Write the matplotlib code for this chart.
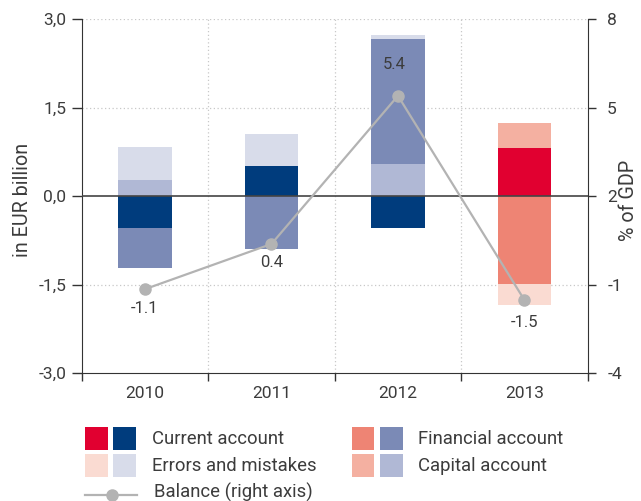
import matplotlib
matplotlib.use("Agg")
import matplotlib.pyplot as plt
from matplotlib.patches import Rectangle
from matplotlib.lines import Line2D
import numpy as np

plt.rcParams['font.family'] = ['Roboto', 'DejaVu Sans']

years = ["2010", "2011", "2012", "2013"]
current = [-0.54, 0.51, -0.54, 0.82]
capital = [0.27, 0.0, 0.545, 0.42]
financial = [-0.67, -0.89, 2.12, -1.49]
errors = [0.56, 0.54, 0.07, -0.36]
balance = [-1.15, 0.38, 5.4, -1.52]
balance_labels = ["-1.1", "0.4", "5.4", "-1.5"]
left_ticks = [-3.0, -1.5, 0.0, 1.5, 3.0]
left_ticklabels = ["-3,0", "-1,5", "0,0", "1,5", "3,0"]
right_ticks = [-4, -1, 2, 5, 8]
legend_labels = ["Current account", "Errors and mistakes", "Financial account",
                 "Capital account", "Balance (right axis)"]

blue = {"current": "#003c7d", "financial": "#7b8ab6", "capital": "#b0b8d5", "errors": "#d8dcea"}
red = {"current": "#e10030", "financial": "#ee8474", "capital": "#f4b0a1", "errors": "#fadbd2"}
TXT = "#3c3c3c"
SP = "#333333"

fig = plt.figure(figsize=(6.41, 5.01), dpi=100)
ax = fig.add_axes([81.7/641, 1-373.3/501, (587.7-81.7)/641, (373.3-19)/501])
ax2 = ax.twinx()

x = np.arange(len(years))
w = 0.42
series = [("current", current), ("capital", capital), ("financial", financial), ("errors", errors)]
pos = np.zeros(len(years))
neg = np.zeros(len(years))
for name, vals in series:
    vals = np.array(vals)
    for i in range(len(years)):
        v = vals[i]
        pal = red if i == 3 else blue
        if v >= 0:
            ax.bar(x[i], v, w, bottom=pos[i], color=pal[name], linewidth=0, zorder=2)
            pos[i] += v
        else:
            ax.bar(x[i], v, w, bottom=neg[i], color=pal[name], linewidth=0, zorder=2)
            neg[i] += v

ax.set_xlim(-0.5, 3.5)
ax.set_ylim(-3, 3)
ax2.set_ylim(-4, 8)

# grid
for yv in [-1.5, 1.5, 3.0]:
    ax.axhline(yv, color="#c8c8c8", lw=0.9, ls=(0, (1, 2)), zorder=1)
for xv in [0.5, 1.5, 2.5]:
    ax.axvline(xv, color="#c8c8c8", lw=0.9, ls=(0, (1, 2)), zorder=1)
ax.axhline(0, color="#444444", lw=1.2, zorder=3)

ax2.plot(x, balance, color="#b3b3b3", lw=1.6, marker="o", ms=8, mfc="#b3b3b3", mec="#b3b3b3", zorder=5)
offsets = [-19, -19, 31, -22]
xoffs = [0, 0, -4, 0]
for i, (b, lab) in enumerate(zip(balance, balance_labels)):
    ax2.annotate(lab, (x[i], b), xytext=(xoffs[i], offsets[i]), textcoords="offset pixels",
                 ha="center", va="center", fontsize=12, color=TXT)

# spines
for a in (ax, ax2):
    a.spines["top"].set_visible(False)
ax.spines["left"].set_color(SP)
ax.spines["bottom"].set_color(SP)
ax2.spines["right"].set_color(SP)
ax2.spines["left"].set_visible(False)
ax2.spines["bottom"].set_visible(False)
ax.spines["right"].set_visible(False)

ax.set_yticks(left_ticks)
ax.set_yticklabels(left_ticklabels)
ax.tick_params(axis="y", length=7, width=1, color=SP, labelsize=12.5, labelcolor=TXT, pad=4)
ax2.set_yticks(right_ticks)
ax2.set_yticklabels([str(t) for t in right_ticks])
ax2.tick_params(axis="y", length=6, width=1, color=SP, labelsize=12.5, labelcolor=TXT, pad=8)

ax.set_xticks(x)
ax.set_xticklabels(years)
ax.set_xticks([-0.5, 0.5, 1.5, 2.5, 3.5], minor=True)
ax.tick_params(axis="x", which="major", length=0, labelsize=12.5, labelcolor=TXT, pad=9)
ax.tick_params(axis="x", which="minor", length=6, width=1, color=SP)

fig.text(23/641, 1-200/501, "in EUR billion", rotation=90, ha="center", va="center",
         fontsize=14.2, color=TXT)
fig.text(628/641, 1-200/501, "% of GDP", rotation=90, ha="center", va="center",
         fontsize=14.2, color=TXT)

# legend (manual)
W, H = 641, 501
def sq(x0, y0, c):
    fig.patches.append(Rectangle((x0/W, 1-(y0+22.7)/H), 22.7/W, 22.7/H, transform=fig.transFigure,
                                 color=c, lw=0))
sq(85, 427, red["current"]); sq(113, 427, blue["current"])
sq(85, 454, red["errors"]); sq(113, 454, blue["errors"])
sq(351.7, 427, red["financial"]); sq(380, 427, blue["financial"])
sq(351.7, 454, red["capital"]); sq(380, 454, blue["capital"])
LFS = 13.3
fig.text(151.7/W, 1-439/H, legend_labels[0], ha="left", va="center", fontsize=LFS, color=TXT)
fig.text(151.7/W, 1-466/H, legend_labels[1], ha="left", va="center", fontsize=LFS, color=TXT)
fig.text(418.3/W, 1-439/H, legend_labels[2], ha="left", va="center", fontsize=LFS, color=TXT)
fig.text(418.3/W, 1-466/H, legend_labels[3], ha="left", va="center", fontsize=LFS, color=TXT)
fig.lines.append(Line2D([85/W, 136.7/W], [1-495/H, 1-495/H], transform=fig.transFigure,
                        color="#b3b3b3", lw=1.6))
fig.lines.append(Line2D([111.7/W], [1-495/H], transform=fig.transFigure, marker="o", ms=8,
                        color="#b3b3b3", lw=0))
fig.text(154.3/W, 1-492.5/H, legend_labels[4], ha="left", va="center", fontsize=LFS, color=TXT)

fig.savefig("out.png", dpi=100)
